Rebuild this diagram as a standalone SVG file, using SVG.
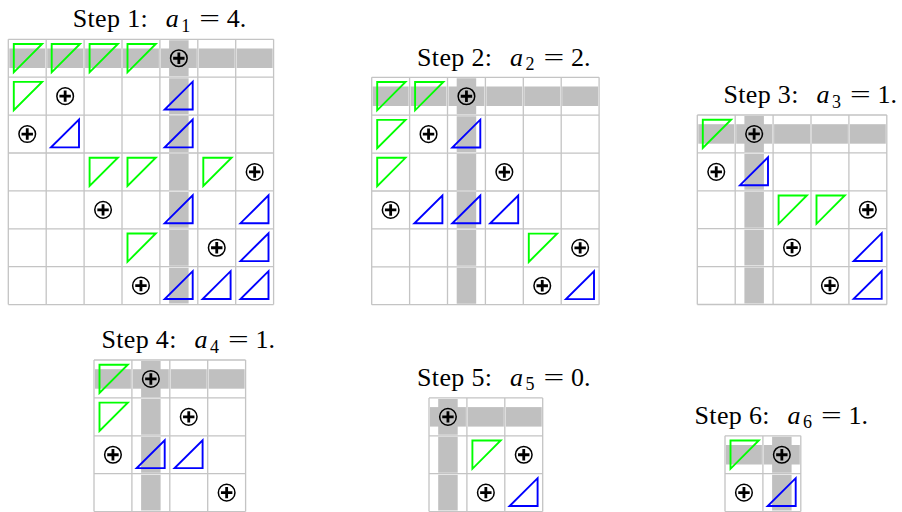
<svg xmlns="http://www.w3.org/2000/svg" xmlns:xlink="http://www.w3.org/1999/xlink" width="902" height="512" viewBox="0 0 902 512">
<style>
.band{fill:#c0c0c0}
.halo{fill:none;stroke:#ffffff;stroke-width:2.0}
.grid{fill:none;stroke:#c4c4c4;stroke-width:1.3}
.gt{fill:none;stroke:#00ff00;stroke-width:1.9;stroke-linejoin:miter}
.bt{fill:none;stroke:#0000ff;stroke-width:1.9;stroke-linejoin:miter}
.lbl{font-family:"Liberation Serif","Times New Roman",serif;font-size:26px;fill:#000}
.mi{font-style:italic}
.sub{font-size:18px}
</style>
<defs>
<path id="gtri" class="gt" d="M5.5,4.7H33.8L5.5,33Z"/>
<path id="btri" class="bt" d="M4.8,32.3H32.8V4.5Z"/>
<g id="op">
<circle r="8.3" fill="none" stroke="#000" stroke-width="1.5"/>
<path d="M-5.7,0H5.7M0,-5.7V5.7" stroke="#000" stroke-width="2.8" fill="none"/>
</g>
</defs>

<g id="step1" transform="translate(8.3,39.3)">
<rect class="band" x="0" y="9.2" width="265.3" height="19.5"/>
<rect class="band" x="160.8" y="0" width="19.5" height="265.3"/>
<path class="halo" d="M0,0H265.3M0,37.9H265.3M0,75.8H265.3M0,113.7H265.3M0,151.6H265.3M0,189.5H265.3M0,227.4H265.3M0,265.3H265.3M0,0V265.3M37.9,0V265.3M75.8,0V265.3M113.7,0V265.3M151.6,0V265.3M189.5,0V265.3M227.4,0V265.3M265.3,0V265.3"/>
<path class="grid" d="M0,0H265.3M0,37.9H265.3M0,75.8H265.3M0,113.7H265.3M0,151.6H265.3M0,189.5H265.3M0,227.4H265.3M0,265.3H265.3M0,0V265.3M37.9,0V265.3M75.8,0V265.3M113.7,0V265.3M151.6,0V265.3M189.5,0V265.3M227.4,0V265.3M265.3,0V265.3"/>
<use href="#gtri" x="0" y="0"/><use href="#gtri" x="37.9" y="0"/><use href="#gtri" x="75.8" y="0"/><use href="#gtri" x="113.7" y="0"/>
<use href="#op" x="170.55" y="18.95"/>
<use href="#gtri" x="0" y="37.9"/><use href="#op" x="56.85" y="56.85"/><use href="#btri" x="151.6" y="37.9"/>
<use href="#op" x="18.95" y="94.75"/><use href="#btri" x="37.9" y="75.8"/><use href="#btri" x="151.6" y="75.8"/>
<use href="#gtri" x="75.8" y="113.7"/><use href="#gtri" x="113.7" y="113.7"/><use href="#gtri" x="189.5" y="113.7"/><use href="#op" x="246.35" y="132.65"/>
<use href="#op" x="94.75" y="170.55"/><use href="#btri" x="151.6" y="151.6"/><use href="#btri" x="227.4" y="151.6"/>
<use href="#gtri" x="113.7" y="189.5"/><use href="#op" x="208.45" y="208.45"/><use href="#btri" x="227.4" y="189.5"/>
<use href="#op" x="132.65" y="246.35"/><use href="#btri" x="151.6" y="227.4"/><use href="#btri" x="189.5" y="227.4"/><use href="#btri" x="227.4" y="227.4"/>
</g>
<text class="lbl" y="27.3"><tspan x="72.7" textLength="75" lengthAdjust="spacing">Step 1:</tspan><tspan class="mi" x="165.7">a</tspan><tspan class="sub" x="181.2" dy="4.5">1</tspan><tspan x="199.3" dy="-4.5" textLength="20.7" lengthAdjust="spacingAndGlyphs">=</tspan><tspan x="226.7">4.</tspan></text>

<g id="step2" transform="translate(371.7,77.3)">
<rect class="band" x="0" y="9.2" width="227.4" height="19.5"/>
<rect class="band" x="85" y="0" width="19.5" height="227.4"/>
<path class="halo" d="M0,0H227.4M0,37.9H227.4M0,75.8H227.4M0,113.7H227.4M0,151.6H227.4M0,189.5H227.4M0,227.4H227.4M0,0V227.4M37.9,0V227.4M75.8,0V227.4M113.7,0V227.4M151.6,0V227.4M189.5,0V227.4M227.4,0V227.4"/>
<path class="grid" d="M0,0H227.4M0,37.9H227.4M0,75.8H227.4M0,113.7H227.4M0,151.6H227.4M0,189.5H227.4M0,227.4H227.4M0,0V227.4M37.9,0V227.4M75.8,0V227.4M113.7,0V227.4M151.6,0V227.4M189.5,0V227.4M227.4,0V227.4"/>
<use href="#gtri" x="0" y="0"/><use href="#gtri" x="37.9" y="0"/><use href="#op" x="94.75" y="18.95"/>
<use href="#gtri" x="0" y="37.9"/><use href="#op" x="56.85" y="56.85"/><use href="#btri" x="75.8" y="37.9"/>
<use href="#gtri" x="0" y="75.8"/><use href="#op" x="132.65" y="94.75"/>
<use href="#op" x="18.95" y="132.65"/><use href="#btri" x="37.9" y="113.7"/><use href="#btri" x="75.8" y="113.7"/><use href="#btri" x="113.7" y="113.7"/>
<use href="#gtri" x="151.6" y="151.6"/><use href="#op" x="208.45" y="170.55"/>
<use href="#op" x="170.55" y="208.45"/><use href="#btri" x="189.5" y="189.5"/>
</g>
<text class="lbl" y="65.5"><tspan x="417" textLength="75" lengthAdjust="spacing">Step 2:</tspan><tspan class="mi" x="510">a</tspan><tspan class="sub" x="525.5" dy="4.5">2</tspan><tspan x="543.6" dy="-4.5" textLength="20.7" lengthAdjust="spacingAndGlyphs">=</tspan><tspan x="571">2.</tspan></text>

<g id="step3" transform="translate(697.3,115)">
<rect class="band" x="0" y="9.2" width="189.5" height="19.5"/>
<rect class="band" x="47.1" y="0" width="19.5" height="189.5"/>
<path class="halo" d="M0,0H189.5M0,37.9H189.5M0,75.8H189.5M0,113.7H189.5M0,151.6H189.5M0,189.5H189.5M0,0V189.5M37.9,0V189.5M75.8,0V189.5M113.7,0V189.5M151.6,0V189.5M189.5,0V189.5"/>
<path class="grid" d="M0,0H189.5M0,37.9H189.5M0,75.8H189.5M0,113.7H189.5M0,151.6H189.5M0,189.5H189.5M0,0V189.5M37.9,0V189.5M75.8,0V189.5M113.7,0V189.5M151.6,0V189.5M189.5,0V189.5"/>
<use href="#gtri" x="0" y="0"/><use href="#op" x="56.85" y="18.95"/>
<use href="#op" x="18.95" y="56.85"/><use href="#btri" x="37.9" y="37.9"/>
<use href="#gtri" x="75.8" y="75.8"/><use href="#gtri" x="113.7" y="75.8"/><use href="#op" x="170.55" y="94.75"/>
<use href="#op" x="94.75" y="132.65"/><use href="#btri" x="151.6" y="113.7"/>
<use href="#op" x="132.65" y="170.55"/><use href="#btri" x="151.6" y="151.6"/>
</g>
<text class="lbl" y="103.2"><tspan x="723.4" textLength="75" lengthAdjust="spacing">Step 3:</tspan><tspan class="mi" x="816.4">a</tspan><tspan class="sub" x="831.9" dy="4.5">3</tspan><tspan x="850" dy="-4.5" textLength="20.7" lengthAdjust="spacingAndGlyphs">=</tspan><tspan x="877.4">1.</tspan></text>

<g id="step4" transform="translate(94,360)">
<rect class="band" x="0" y="9.2" width="151.6" height="19.5"/>
<rect class="band" x="47.1" y="0" width="19.5" height="151.6"/>
<path class="halo" d="M0,0H151.6M0,37.9H151.6M0,75.8H151.6M0,113.7H151.6M0,151.6H151.6M0,0V151.6M37.9,0V151.6M75.8,0V151.6M113.7,0V151.6M151.6,0V151.6"/>
<path class="grid" d="M0,0H151.6M0,37.9H151.6M0,75.8H151.6M0,113.7H151.6M0,151.6H151.6M0,0V151.6M37.9,0V151.6M75.8,0V151.6M113.7,0V151.6M151.6,0V151.6"/>
<use href="#gtri" x="0" y="0"/><use href="#op" x="56.85" y="18.95"/>
<use href="#gtri" x="0" y="37.9"/><use href="#op" x="94.75" y="56.85"/>
<use href="#op" x="18.95" y="94.75"/><use href="#btri" x="37.9" y="75.8"/><use href="#btri" x="75.8" y="75.8"/>
<use href="#op" x="132.65" y="132.65"/>
</g>
<text class="lbl" y="348"><tspan x="101.4" textLength="75" lengthAdjust="spacing">Step 4:</tspan><tspan class="mi" x="194.4">a</tspan><tspan class="sub" x="209.9" dy="4.5">4</tspan><tspan x="228" dy="-4.5" textLength="20.7" lengthAdjust="spacingAndGlyphs">=</tspan><tspan x="255.4">1.</tspan></text>

<g id="step5" transform="translate(429,397.9)">
<rect class="band" x="0" y="9.2" width="113.7" height="19.5"/>
<rect class="band" x="9.2" y="0" width="19.5" height="113.7"/>
<path class="halo" d="M0,0H113.7M0,37.9H113.7M0,75.8H113.7M0,113.7H113.7M0,0V113.7M37.9,0V113.7M75.8,0V113.7M113.7,0V113.7"/>
<path class="grid" d="M0,0H113.7M0,37.9H113.7M0,75.8H113.7M0,113.7H113.7M0,0V113.7M37.9,0V113.7M75.8,0V113.7M113.7,0V113.7"/>
<use href="#op" x="18.95" y="18.95"/>
<use href="#gtri" x="37.9" y="37.9"/><use href="#op" x="94.75" y="56.85"/>
<use href="#op" x="56.85" y="94.75"/><use href="#btri" x="75.8" y="75.8"/>
</g>
<text class="lbl" y="385.9"><tspan x="417" textLength="75" lengthAdjust="spacing">Step 5:</tspan><tspan class="mi" x="510">a</tspan><tspan class="sub" x="525.5" dy="4.5">5</tspan><tspan x="543.6" dy="-4.5" textLength="20.7" lengthAdjust="spacingAndGlyphs">=</tspan><tspan x="571">0.</tspan></text>

<g id="step6" transform="translate(725,435.8)">
<rect class="band" x="0" y="9.2" width="75.8" height="19.5"/>
<rect class="band" x="47.1" y="0" width="19.5" height="75.8"/>
<path class="halo" d="M0,0H75.8M0,37.9H75.8M0,75.8H75.8M0,0V75.8M37.9,0V75.8M75.8,0V75.8"/>
<path class="grid" d="M0,0H75.8M0,37.9H75.8M0,75.8H75.8M0,0V75.8M37.9,0V75.8M75.8,0V75.8"/>
<use href="#gtri" x="0" y="0"/><use href="#op" x="56.85" y="18.95"/>
<use href="#op" x="18.95" y="56.85"/><use href="#btri" x="37.9" y="37.9"/>
</g>
<text class="lbl" y="423.8"><tspan x="694.5" textLength="75" lengthAdjust="spacing">Step 6:</tspan><tspan class="mi" x="787.5">a</tspan><tspan class="sub" x="803" dy="4.5">6</tspan><tspan x="821.1" dy="-4.5" textLength="20.7" lengthAdjust="spacingAndGlyphs">=</tspan><tspan x="848.5">1.</tspan></text>
</svg>
